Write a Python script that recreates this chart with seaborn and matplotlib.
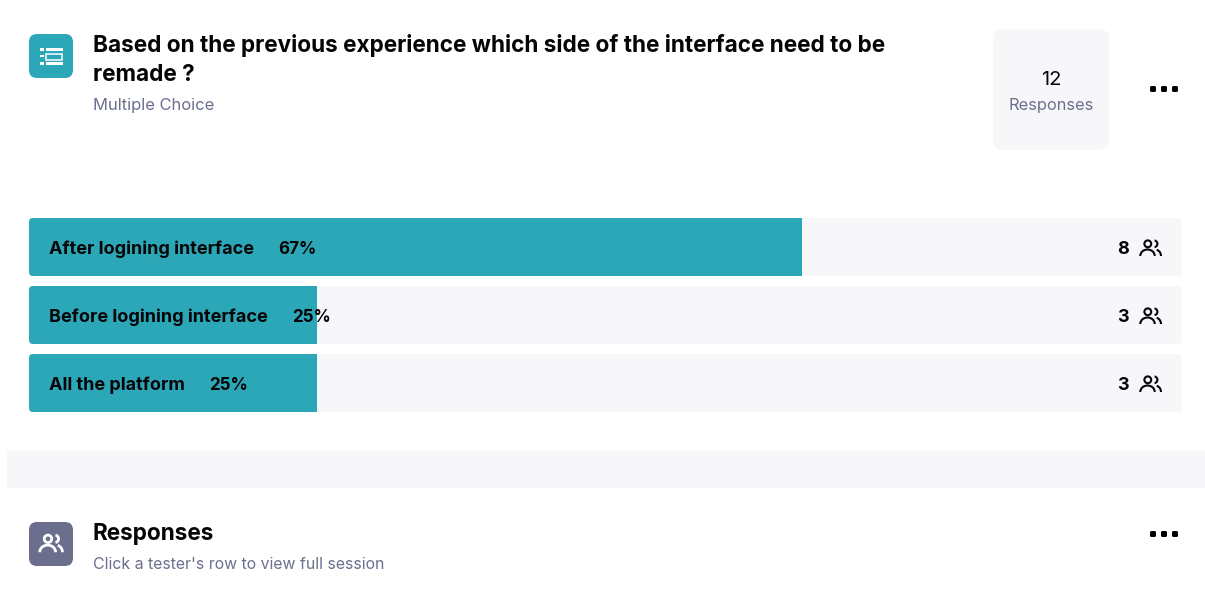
import pandas as pd
import matplotlib
matplotlib.use("Agg")
import matplotlib.pyplot as plt
from matplotlib.patches import Arc, Circle, FancyBboxPatch, PathPatch, Rectangle
from matplotlib.path import Path
import seaborn as sns

# Survey results
options = ["After logining interface", "Before logining interface", "All the platform"]
percentages = [67, 25, 25]
respondents = [8, 3, 3]
total_responses = 12

question_lines = ["Based on the previous experience which side of the interface need to be", "remade ?"]
question_type = "Multiple Choice"
section_title = "Responses"
section_hint = "Click a tester's row to view full session"

TEAL = "#2ca7b8"
TRACK = "#f7f7fa"
SLATE = "#6b6f8d"
INK = "#050508"
FONT = "Inter"

W, H = 1205, 608
sns.set_theme(style="white")
plt.rcParams["font.family"] = [FONT, "DejaVu Sans"]

fig = plt.figure(figsize=(W / 100, H / 100), dpi=100, facecolor="white")


def px_axes(left, top, right, bottom, **kw):
    return fig.add_axes([left / W, 1 - bottom / H, (right - left) / W, (bottom - top) / H], **kw)


# Bars on their light tracks
chart = px_axes(29, 213, 1182, 417, zorder=1)
frame = pd.DataFrame({"option": options, "share": percentages, "full": [100] * len(options)})
sns.barplot(data=frame, x="full", y="option", orient="h", width=58 / 68, color=TRACK,
            saturation=1, linewidth=0, ax=chart)
sns.barplot(data=frame, x="share", y="option", orient="h", width=58 / 68, color=TEAL,
            saturation=1, linewidth=0, ax=chart)
chart.set_xlim(0, 100)
chart.axis("off")

# Everything else is laid out in pixel units on a transparent overlay
ui = px_axes(0, 0, W, H, zorder=2)
ui.set_xlim(0, W)
ui.set_ylim(H, 0)
ui.axis("off")
ui.patch.set_alpha(0)


def rounded(x0, y0, x1, y1, radius, color):
    return FancyBboxPatch((x0 + radius, y0 + radius), x1 - x0 - 2 * radius, y1 - y0 - 2 * radius,
                          boxstyle=f"round,pad={radius},rounding_size={radius}",
                          fc=color, ec="none", lw=0)


def corner_mask(x, y, dx, dy):
    # White sliver that turns a square corner into a rounded one
    verts = [(x, y), (x + dx, y), (x, y), (x, y + dy), (x, y)]
    codes = [Path.MOVETO, Path.LINETO, Path.CURVE3, Path.CURVE3, Path.CLOSEPOLY]
    ui.add_patch(PathPatch(Path(verts, codes), fc="white", ec="none", lw=0))


def people(cx, cy, color, lw=1.5, k=1.0):
    # cx, cy is the middle of the two-person glyph
    ui.add_patch(Circle((cx - 3.2 * k, cy - 4.7 * k), 3.4 * k, fc="none", ec=color, lw=lw))
    ui.add_patch(Arc((cx + 3 * k, cy - 4.7 * k), 6.8 * k, 6.8 * k, theta1=-80, theta2=80, ec=color, lw=lw))
    ui.add_patch(Arc((cx - 3.5 * k, cy + 7.5 * k), 14.5 * k, 13 * k, theta1=180, theta2=360, ec=color, lw=lw))
    ui.add_patch(Arc((cx + 4 * k, cy + 7.5 * k), 12 * k, 13 * k, theta1=285, theta2=360, ec=color, lw=lw))


def more_menu(cy):
    for x in (1153, 1164, 1175):
        ui.add_patch(rounded(x - 3, cy - 3, x + 3, cy + 3, 1.5, "black"))


# Rounded ends of each row
for row in range(len(options)):
    top, bottom = 218 + 68 * row, 276 + 68 * row
    for x, dx in ((29, 4), (1182, -4)):
        for y, dy in ((top, 4), (bottom, -4)):
            corner_mask(x, y, dx, dy)

# Question header
ui.add_patch(rounded(29, 34, 73, 78, 8, TEAL))
for y in (48, 54.6, 62.3):
    ui.add_patch(Rectangle((40, y), 3.6, 2.7, fc="white", ec="none"))
ui.add_patch(Rectangle((45.5, 48), 17.5, 2.7, fc="white", ec="none"))
ui.add_patch(Rectangle((46.3, 53.5), 16, 6, fc="none", ec="white", lw=1.1))
ui.add_patch(Rectangle((45.5, 62.3), 17.5, 2.7, fc="white", ec="none"))

ui.text(93, 52, question_lines[0], fontsize=16.25, fontweight="bold", color=INK, va="baseline")
ui.text(93, 81, question_lines[1], fontsize=16.25, fontweight="bold", color=INK, va="baseline")
ui.text(93, 110, question_type, fontsize=11.9, color=SLATE, va="baseline")

# Response counter card and menu
ui.add_patch(rounded(993, 29, 1109, 150, 10, TRACK))
ui.text(1051, 85, str(total_responses), fontsize=14.5, color=INK, ha="center", va="baseline")
ui.text(1051, 110, "Responses", fontsize=11.8, color=SLATE, ha="center", va="baseline")
more_menu(89)

# Row labels, percentages and respondent counts
renderer = fig.canvas.get_renderer()
for row, (name, pct, count) in enumerate(zip(options, percentages, respondents)):
    base = 254 + 68 * row
    label = ui.text(49, base, name, fontsize=13, fontweight="bold", color=INK, va="baseline")
    right = label.get_window_extent(renderer).x1
    ui.text(right + 24, base, f"{pct}%", fontsize=12.3, fontweight="bold", color=INK, va="baseline")
    ui.text(1123, base, str(count), fontsize=13, fontweight="bold", color=INK, ha="center", va="baseline")
    people(1151, 248.5 + 68 * row, INK)

# Section divider
ui.add_patch(Rectangle((7, 451), W - 7, 37, fc=TRACK, ec="none"))

# Responses section header
ui.add_patch(rounded(29, 522, 73, 566, 8, SLATE))
people(51.5, 544, "white", lw=2, k=1.1)
ui.text(93, 540, section_title, fontsize=16.25, fontweight="bold", color=INK, va="baseline")
ui.text(93, 569, section_hint, fontsize=11.4, color=SLATE, va="baseline")
more_menu(534)

fig.savefig("out.png", dpi=100, facecolor="white")
